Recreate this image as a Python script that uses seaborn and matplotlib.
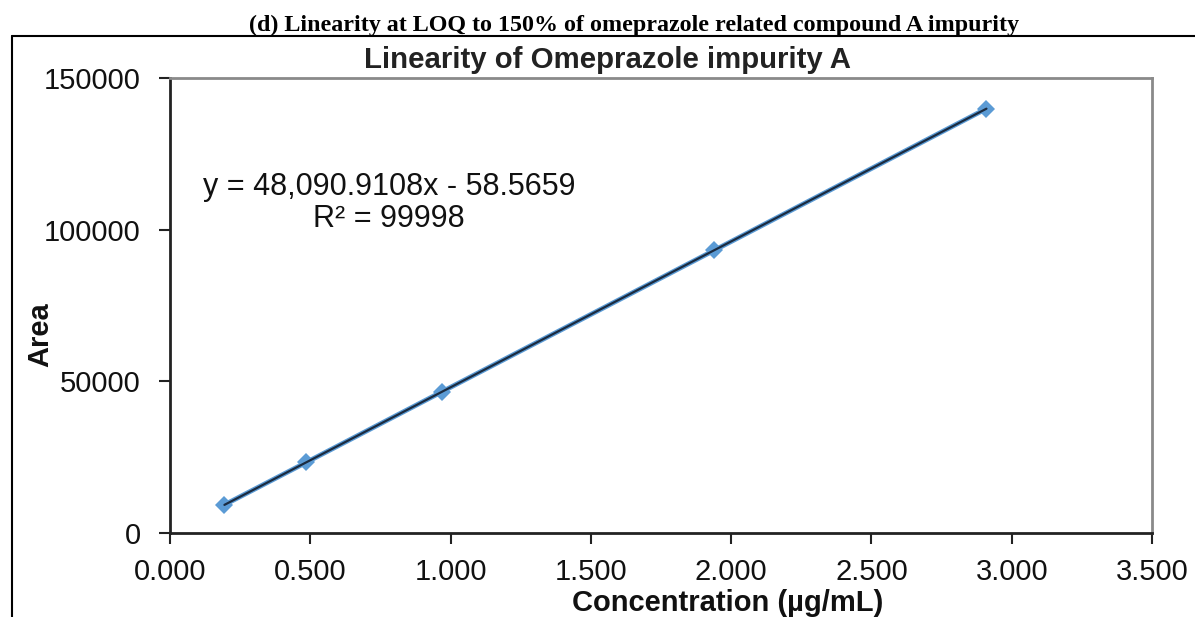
import matplotlib
matplotlib.use("Agg")
import matplotlib.pyplot as plt
from matplotlib.lines import Line2D
import seaborn as sns
import pandas as pd
import numpy as np

# Calibration data
concentration = [0.194, 0.485, 0.970, 1.940, 2.910]
area = [9300, 23250, 46600, 93200, 139900]

# Fitted trendline parameters (as reported)
slope = 48090.9108
intercept = -58.5659
equation_text = "y = 48,090.9108x - 58.5659\nR² = 99998"

x_ticks = [0.0, 0.5, 1.0, 1.5, 2.0, 2.5, 3.0, 3.5]
y_ticks = [0, 50000, 100000, 150000]

sns.set_style("white")
plt.rcParams["font.family"] = ["Liberation Sans", "DejaVu Sans"]

W, H = 1195, 617
fig = plt.figure(figsize=(W / 100, H / 100), dpi=100)
ax = fig.add_axes([170 / W, 1 - 533 / H, 982 / W, 455 / H])

df = pd.DataFrame({"Concentration": concentration, "Area": area})

# Series line with diamond markers
sns.lineplot(data=df, x="Concentration", y="Area", ax=ax, color="#5B9BD5",
             linewidth=3.5, marker="D", markersize=9, markeredgewidth=0,
             markerfacecolor="#5B9BD5", zorder=2)

# Linear trendline across the measured range
xt = np.array([min(concentration), max(concentration)])
ax.plot(xt, slope * xt + intercept, color="#1b2b40", linewidth=1.6, zorder=3)

ax.set_xlim(0, 3.5)
ax.set_ylim(0, 150000)
ax.set_xticks(x_ticks)
ax.set_xticklabels([f"{v:.3f}" for v in x_ticks])
ax.set_yticks(y_ticks)
ax.set_yticklabels([str(v) for v in y_ticks])
ax.tick_params(axis="both", which="major", labelsize=21, length=8, width=1.5,
               color="#222222", direction="out", bottom=True, left=True,
               labelcolor="#111111")
ax.tick_params(axis="y", pad=13)
ax.tick_params(axis="x", pad=10)

for side in ["left", "bottom"]:
    ax.spines[side].set_color("#222222")
    ax.spines[side].set_linewidth(2)
for side in ["top", "right"]:
    ax.spines[side].set_color("#8a8a8a")
    ax.spines[side].set_linewidth(2)

ax.set_xlabel("Concentration (µg/mL)", fontsize=21, fontweight="bold", color="#111111")
ax.set_ylabel("Area", fontsize=21, fontweight="bold", color="#111111")
ax.xaxis.set_label_coords((728 - 170) / 982, -(603 - 533) / 455)
ax.yaxis.set_label_coords(-(170 - 40) / 982, (533 - 335) / 455)
ax.xaxis.label.set_va("center")
ax.yaxis.label.set_va("center")

ax.text((389 - 170) / 982, (533 - 203) / 455, equation_text, transform=ax.transAxes,
        ha="center", va="center", fontsize=22, linespacing=1.08, color="#111111")

fig.text(608 / W, 1 - 68 / H, "Linearity of Omeprazole impurity A",
         ha="center", va="baseline", fontsize=21.2, fontweight="bold", color="#222222")

fig.text(634 / W, 1 - 31 / H,
         "(d) Linearity at LOQ to 150% of omeprazole related compound A impurity",
         ha="center", va="baseline", fontsize=17.3, fontweight="bold",
         family=["Liberation Serif", "DejaVu Serif"], color="black")

# Frame lines around the chart
fig.add_artist(Line2D([12 / W, 12 / W], [0, 1 - 36 / H], transform=fig.transFigure,
                      color="black", linewidth=1.5))
fig.add_artist(Line2D([12 / W, 1], [1 - 36 / H, 1 - 36 / H], transform=fig.transFigure,
                      color="black", linewidth=1.5))

fig.savefig("out.png", dpi=100)
